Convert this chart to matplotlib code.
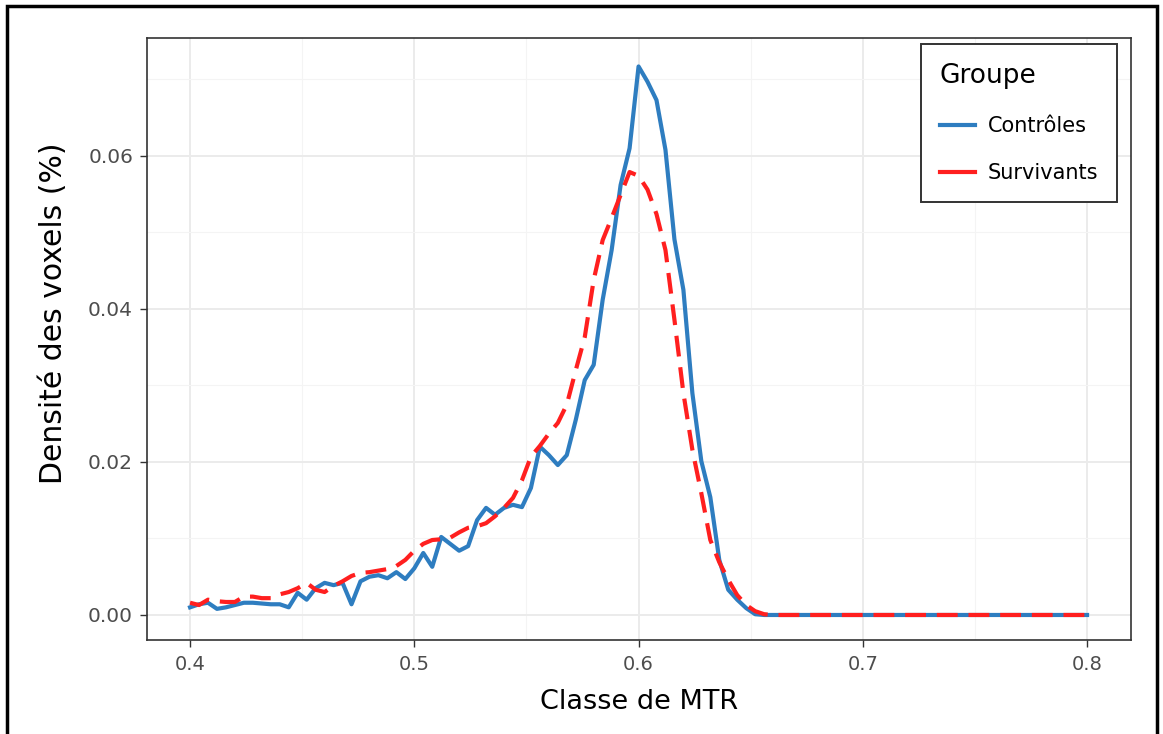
import matplotlib
matplotlib.use("Agg")
import matplotlib.pyplot as plt
from matplotlib.patches import Rectangle
from matplotlib.lines import Line2D
from matplotlib.ticker import MultipleLocator
import numpy as np

# MTR class bins (0.4 -> 0.8, step 0.004)
mtr_classes = np.round(np.linspace(0.4, 0.8, 101), 3)

controles = [
    0.0010, 0.0014, 0.0016, 0.0008, 0.0010, 0.0013, 0.0016, 0.0016, 0.0015, 0.0014,
    0.0014, 0.0010, 0.0029, 0.0020, 0.0035, 0.0042, 0.0039, 0.0042, 0.0014, 0.0044,
    0.0050, 0.0052, 0.0048, 0.0056, 0.0047, 0.0061, 0.0081, 0.0063, 0.0102, 0.0093,
    0.0084, 0.0090, 0.0124, 0.0140, 0.0131, 0.0140, 0.0144, 0.0141, 0.0166, 0.0220,
    0.0209, 0.0196, 0.0209, 0.0255, 0.0307, 0.0327, 0.0412, 0.0477, 0.0562, 0.0610,
    0.0717, 0.0697, 0.0673, 0.0608, 0.0491, 0.0425, 0.0290, 0.0201, 0.0154, 0.0072,
    0.0033, 0.0020, 0.0009, 0.0001, 0.0, 0.0, 0.0, 0.0, 0.0, 0.0,
    0.0, 0.0, 0.0, 0.0, 0.0, 0.0, 0.0, 0.0, 0.0, 0.0,
    0.0, 0.0, 0.0, 0.0, 0.0, 0.0, 0.0, 0.0, 0.0, 0.0,
    0.0, 0.0, 0.0, 0.0, 0.0, 0.0, 0.0, 0.0, 0.0, 0.0,
    0.0,
]

survivants = [
    0.0016, 0.0013, 0.0020, 0.0018, 0.0017, 0.0017, 0.0024, 0.0024, 0.0022, 0.0022,
    0.0027, 0.0030, 0.0035, 0.0042, 0.0033, 0.0030, 0.0038, 0.0044, 0.0051, 0.0055,
    0.0056, 0.0058, 0.0060, 0.0064, 0.0072, 0.0084, 0.0093, 0.0098, 0.0099, 0.0101,
    0.0108, 0.0114, 0.0116, 0.0120, 0.0129, 0.0140, 0.0153, 0.0176, 0.0207, 0.0221,
    0.0237, 0.0251, 0.0275, 0.0320, 0.0363, 0.0438, 0.0490, 0.0519, 0.0549, 0.0579,
    0.0574, 0.0556, 0.0524, 0.0477, 0.0386, 0.0290, 0.0216, 0.0159, 0.0098, 0.0069,
    0.0046, 0.0026, 0.0013, 0.0005, 0.0001, 0.0, 0.0, 0.0, 0.0, 0.0,
    0.0, 0.0, 0.0, 0.0, 0.0, 0.0, 0.0, 0.0, 0.0, 0.0,
    0.0, 0.0, 0.0, 0.0, 0.0, 0.0, 0.0, 0.0, 0.0, 0.0,
    0.0, 0.0, 0.0, 0.0, 0.0, 0.0, 0.0, 0.0, 0.0, 0.0,
    0.0,
]

plt.rcParams['font.family'] = ['DejaVu Sans']

BLUE = "#2E7DC0"
RED = "#FF1F1F"

fig = plt.figure(figsize=(11.63, 7.34), dpi=100)
ax = fig.add_axes([147 / 1163, 1 - 640 / 734, 984 / 1163, 602 / 734])

ax.plot(mtr_classes, controles, color=BLUE, lw=3.0, solid_joinstyle="round", zorder=3)
ax.plot(mtr_classes, survivants, color=RED, lw=3.0, ls=(0, (5, 2.6)), zorder=4)

ax.set_xlim(0.3808, 0.8196)
ax.set_ylim(-0.00327, 0.07542)
ax.xaxis.set_major_locator(MultipleLocator(0.1))
ax.xaxis.set_minor_locator(MultipleLocator(0.05))
ax.yaxis.set_major_locator(MultipleLocator(0.02))
ax.yaxis.set_minor_locator(MultipleLocator(0.01))
ax.xaxis.set_major_formatter(lambda v, p: f"{v:.1f}")
ax.yaxis.set_major_formatter(lambda v, p: f"{v:.2f}")

ax.grid(which="major", color="#EBEBEB", lw=1.4)
ax.grid(which="minor", color="#F4F4F4", lw=0.8)
ax.set_axisbelow(True)
for s in ax.spines.values():
    s.set_color("#333333")
    s.set_linewidth(1.2)
ax.tick_params(which="major", length=5, width=1.0, color="#333333",
               labelsize=14, labelcolor="#4D4D4D")
ax.tick_params(axis="x", which="major", pad=6)
ax.tick_params(axis="y", which="major", pad=5, labelsize=14.5)
ax.tick_params(which="minor", length=0)

ax.set_xlabel("Classe de MTR", fontsize=19.5, color="black", labelpad=10.5)
ax.set_ylabel("Densité des voxels (%)", fontsize=21.5, color="black")
ax.yaxis.set_label_coords(-0.080, 0.543)

handles = [Line2D([], [], color=BLUE, lw=3.0),
           Line2D([], [], color=RED, lw=3.0)]
leg = ax.legend(handles, ["Contrôles", "Survivants"], title="Groupe",
                loc="upper right", bbox_to_anchor=(0.9858, 0.990),
                borderaxespad=0,
                fontsize=15, title_fontsize=19, alignment="left",
                fancybox=False, edgecolor="#333333", framealpha=1,
                handlelength=1.7, handletextpad=0.6, labelspacing=1.3,
                borderpad=0.9)
leg.get_frame().set_linewidth(1.4)

# outer frame around the whole figure
fig.patches.append(Rectangle((7 / 1163, -0.02), 1150 / 1163, 1 - 6 / 734 + 0.02,
                             transform=fig.transFigure, fill=False,
                             edgecolor="black", lw=2.5))

fig.savefig("out.png", dpi=100)
